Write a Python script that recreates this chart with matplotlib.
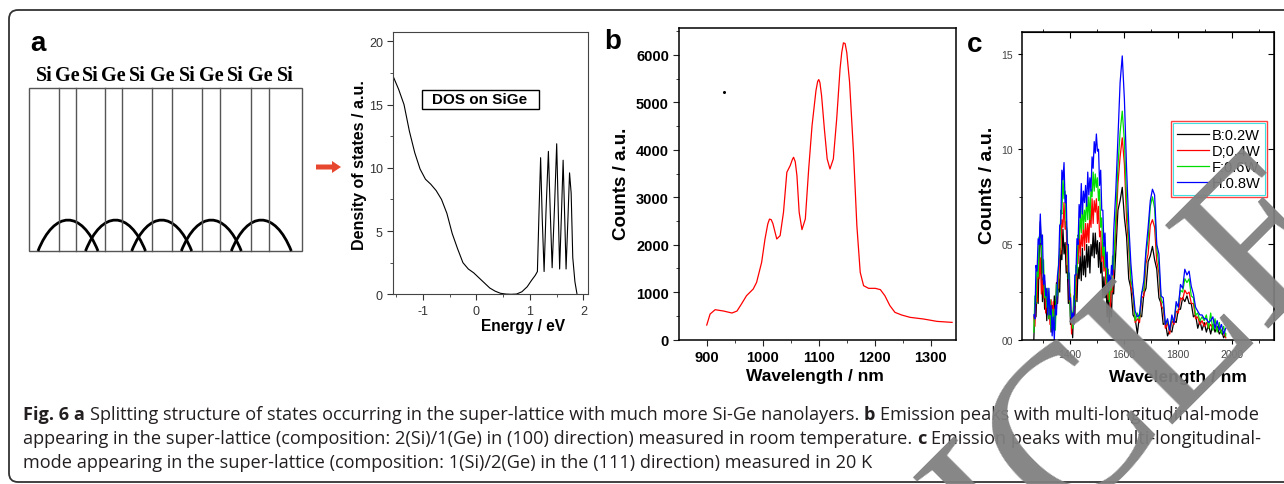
import matplotlib
matplotlib.use("Agg")
import matplotlib.pyplot as plt
from matplotlib.patches import FancyBboxPatch, Rectangle, FancyArrow, PathPatch
from matplotlib.path import Path
from matplotlib.ticker import MultipleLocator, FixedLocator, NullFormatter

plt.rcParams["axes.unicode_minus"] = False
plt.rcParams["font.family"] = ["Liberation Sans", "DejaVu Sans"]

W, H = 1284, 485

# ---------------- data ----------------
# panel a: layer sequence of the super-lattice
layer_names = ["Si", "Ge", "Si", "Ge", "Si", "Ge", "Si", "Ge", "Si", "Ge", "Si"]

# panel a: density of states
energy_ev = [-1.55, -1.45, -1.35, -1.25, -1.15, -1.05, -0.95, -0.85, -0.75, -0.65,
             -0.55, -0.45, -0.35, -0.25, -0.15, -0.05, 0.05, 0.15, 0.25, 0.35,
             0.45, 0.55, 0.65, 0.75, 0.85, 0.95, 1.03, 1.10, 1.14, 1.17,
             1.20, 1.23, 1.265, 1.30, 1.345, 1.38, 1.415, 1.46, 1.50, 1.53,
             1.555, 1.59, 1.62, 1.65, 1.675, 1.71, 1.74, 1.77, 1.80, 1.84, 1.88]
dos_au = [17.2, 16.2, 15.0, 12.9, 11.2, 9.9, 9.1, 8.7, 8.2, 7.5,
          6.4, 4.8, 3.6, 2.5, 2.0, 1.7, 1.3, 0.9, 0.5, 0.25,
          0.08, 0.02, 0.0, 0.02, 0.2, 0.6, 1.1, 1.5, 1.8, 6.5,
          10.8, 6.0, 1.8, 6.5, 11.3, 6.5, 2.1, 7.0, 11.9, 6.5,
          2.0, 6.5, 10.6, 6.0, 2.0, 6.0, 9.6, 8.0, 2.9, 1.0, 0.0]

# panel b: room temperature emission
wl_b = [900, 906, 915, 930, 945, 954, 962, 971, 983, 989, 998, 1004, 1009, 1012, 1015, 1018,
        1025, 1031, 1037, 1043, 1049, 1053, 1055, 1058, 1061, 1065, 1070, 1076, 1082, 1088,
        1095, 1098, 1100, 1102, 1105, 1110, 1115, 1120, 1126, 1132, 1138, 1141, 1144, 1147,
        1150, 1155, 1162, 1168, 1174, 1180, 1189, 1201, 1210, 1218, 1227, 1236, 1248, 1263,
        1287, 1311, 1338]
counts_b = [309, 541, 632, 604, 562, 604, 752, 927, 1068, 1208, 1630, 2122, 2440, 2540, 2530, 2450,
            2122, 2192, 2684, 3527, 3668, 3800, 3843, 3750, 3457, 2684, 2319, 2543, 3597, 4511,
            5248, 5440, 5480, 5420, 5143, 4440, 3808, 3597, 3808, 4651, 5705, 6050, 6253, 6240,
            6050, 5424, 3949, 2403, 1419, 1138, 1082, 1082, 1054, 927, 717, 576, 520, 471,
            436, 386, 365]
stray_wl, stray_counts = [930], [5227]

# panel c: 20 K emission at four pump powers
wl_c = [1266, 1270, 1274, 1278, 1282, 1286, 1290, 1294, 1298, 1302, 1306, 1310, 1314, 1318,
        1322, 1326, 1330, 1334, 1338, 1342, 1346, 1350, 1354, 1358, 1362, 1366, 1370, 1374,
        1378, 1382, 1386, 1390, 1394, 1398, 1402, 1406, 1410, 1414, 1418, 1422, 1426, 1430,
        1434, 1438, 1442, 1446, 1450, 1454, 1458, 1462, 1466, 1470, 1474, 1478, 1482, 1486,
        1490, 1494, 1498, 1502, 1506, 1510, 1514, 1518, 1522, 1526, 1530, 1534, 1538, 1542,
        1546, 1550, 1554, 1558, 1562,
        1570, 1578, 1586, 1594, 1602, 1610, 1618, 1626, 1634, 1642,
        1650, 1658, 1666, 1674, 1682, 1690, 1698, 1706, 1714, 1722,
        1730, 1738, 1746, 1754, 1762, 1770, 1778, 1786, 1794, 1802,
        1810, 1818, 1826, 1834, 1842, 1850, 1858, 1866, 1874, 1882,
        1890, 1898, 1906, 1914, 1922, 1930, 1938, 1946, 1954, 1962,
        1970, 1978]
c_b02 = [0.0, 1.9, 1.2, 2.8, 1.9, 4.5, 6.2, 4.3, 2.0, 3.3, 1.6, 2.3, 1.0, 2.5,
         1.1, 2.0, 0.4, 1.8, 1.1, 2.3, 1.1, 3.0, 1.9, 3.2, 2.5, 4.7, 4.2, 5.8,
         4.5, 5.1, 3.5, 3.9, 1.9, 2.9, 0.8, 1.2, 0.1, 1.9, 1.2, 2.9, 2.0, 3.8,
         3.2, 4.4, 3.1, 4.8, 3.4, 4.4, 3.3, 5.0, 3.8, 4.9, 3.5, 5.0, 4.4, 5.6,
         4.3, 5.6, 4.5, 5.2, 3.8, 5.1, 3.5, 4.1, 2.2, 3.3, 2.2, 2.9, 1.2, 2.5,
         0.9, 2.0, 1.2, 3.2, 2.4,
         4.6, 6.8, 7.3, 8.0, 6.4, 5.4, 3.2, 2.7, 1.3, 1.1,
         0.3, 1.3, 1.2, 2.4, 2.7, 4.1, 4.4, 4.9, 4.2, 3.7,
         2.2, 1.9, 0.8, 0.9, 0.2, 0.5, 0.4, 1.0, 0.9, 1.6,
         1.6, 2.2, 2.0, 2.3, 1.9, 1.9, 1.2, 1.3, 0.6, 1.0,
         0.5, 0.9, 0.4, 0.8, 0.3, 0.8, 0.4, 0.7, 0.3, 0.5,
         0.1, 0.3]
c_d04 = [1.2, 0.7, 2.3, 2.0, 4.1, 3.2, 4.3, 2.4, 3.1, 2.2, 3.1, 1.4, 2.5, 1.3,
         2.0, 0.8, 2.1, 0.8, 2.0, 0.5, 1.7, 1.6, 3.4, 2.7, 4.8, 4.5, 6.3, 5.9,
         7.2, 5.8, 6.2, 3.6, 3.6, 2.0, 2.4, 0.3, 1.4, 0.8, 2.3, 2.1, 4.5, 4.0,
         5.7, 4.4, 5.5, 4.9, 6.1, 4.7, 6.1, 5.1, 6.1, 5.1, 6.8, 5.9, 7.4, 6.1,
         7.3, 6.7, 7.4, 6.1, 7.0, 5.4, 5.7, 4.1, 5.1, 3.6, 4.5, 2.6, 3.2, 2.1,
         3.0, 1.6, 3.2, 2.5, 3.9,
         5.6, 8.2, 9.6, 10.6, 9.2, 6.3, 4.9, 2.8, 2.3, 0.9,
         1.1, 0.9, 2.2, 2.3, 4.0, 4.5, 6.0, 6.3, 5.9, 4.1,
         3.5, 1.8, 1.6, 0.6, 0.9, 0.3, 1.0, 0.8, 1.5, 1.4,
         2.2, 2.1, 2.6, 2.4, 2.5, 1.9, 1.9, 1.1, 1.2, 0.8,
         1.0, 0.7, 0.9, 0.6, 0.8, 0.6, 0.8, 0.5, 0.7, 0.4,
         0.4, 0.1]
c_f06 = [0.4, 2.3, 1.9, 3.9, 3.3, 5.4, 5.1, 5.5, 3.5, 4.2, 2.2, 2.7, 1.7, 2.7,
         1.1, 2.1, 0.6, 1.6, 0.7, 1.6, 0.5, 2.9, 2.3, 4.2, 4.5, 6.8, 6.6, 8.5,
         7.4, 7.8, 6.0, 5.7, 3.2, 3.5, 1.2, 1.5, 0.6, 2.3, 1.8, 3.9, 3.5, 5.5,
         5.3, 6.6, 5.6, 7.2, 5.8, 6.8, 6.2, 7.5, 6.3, 7.5, 6.3, 7.9, 7.5, 8.8,
         7.8, 8.7, 8.0, 8.5, 7.3, 7.9, 5.9, 6.4, 4.4, 5.1, 3.8, 4.3, 2.6, 3.7,
         2.0, 3.0, 2.6, 4.4, 3.7,
         6.4, 9.1, 10.9, 12.0, 10.4, 7.3, 5.3, 3.1, 2.6, 1.0,
         1.4, 1.1, 2.5, 2.6, 4.5, 5.3, 7.0, 7.5, 6.9, 4.8,
         3.9, 2.1, 1.9, 0.8, 1.0, 0.5, 1.1, 1.0, 1.8, 1.8,
         2.6, 2.5, 3.2, 3.0, 3.2, 2.3, 2.2, 1.3, 1.4, 1.0,
         1.2, 1.0, 1.3, 0.6, 1.4, 0.5, 1.1, 0.4, 0.9, 0.3,
         0.7, 0.2]
c_h08 = [1.3, 1.1, 3.9, 3.6, 5.3, 5.0, 6.6, 5.0, 5.5, 2.9, 3.4, 2.3, 2.7, 1.3,
         2.7, 1.3, 1.8, 0.2, 1.2, 0.0, 1.8, 1.3, 3.4, 3.9, 6.0, 6.1, 8.9, 8.4,
         9.3, 7.2, 7.6, 5.0, 5.0, 2.1, 2.2, 0.9, 1.4, 0.8, 3.4, 3.4, 5.3, 5.0,
         7.1, 6.4, 8.2, 6.6, 7.8, 7.2, 8.1, 7.0, 8.8, 7.6, 8.5, 7.8, 9.6, 9.0,
         10.4, 9.8, 10.8, 9.9, 10.0, 8.1, 8.9, 6.8, 6.8, 4.9, 5.6, 3.8, 4.6, 2.5,
         3.4, 2.8, 3.9, 3.4, 5.6,
         7.8, 10.6, 13.5, 14.9, 12.6, 9.0, 6.1, 4.0, 2.6, 1.5,
         1.2, 1.3, 2.4, 3.1, 4.7, 5.9, 7.3, 7.9, 7.6, 5.0,
         4.5, 2.3, 2.2, 0.8, 1.1, 0.5, 1.3, 0.9, 2.0, 1.7,
         2.9, 2.7, 3.7, 3.4, 3.6, 2.8, 2.4, 1.7, 1.5, 1.3,
         1.3, 1.1, 1.1, 0.9, 1.0, 1.2, 0.6, 1.0, 0.5, 0.8,
         0.3, 0.6]
series_c = [(c_b02, "B:0.2W", "black"), (c_d04, "D;0.4W", "#ff0000"),
            (c_f06, "F:0.6W", "#00dd00"), (c_h08, "H:0.8W", "#0000ff")]

caption = [
    [("Fig. 6 a", True), ("Splitting structure of states occurring in the super-lattice with much more Si-Ge nanolayers.", False),
     ("b", True), ("Emission peaks with multi-longitudinal-mode", False)],
    [("appearing in the super-lattice (composition: 2(Si)/1(Ge) in (100) direction) measured in room temperature.", False),
     ("c", True), ("Emission peaks with multi-longitudinal-", False)],
    [("mode appearing in the super-lattice (composition: 1(Si)/2(Ge) in the (111) direction) measured in 20 K", False)],
]


def box(l, t, r, b):
    return [l / W, 1 - b / H, (r - l) / W, (b - t) / H]


def ftext(x, y, s, **kw):
    return fig.text(x / W, 1 - y / H, s, **kw)


fig = plt.figure(figsize=(W / 100, H / 100), dpi=100)
renderer = fig.canvas.get_renderer()

# overlay in pixel units (schematic, frame, arrow, watermark)
ov = fig.add_axes([0, 0, 1, 1], zorder=10)
ov.set_xlim(0, W)
ov.set_ylim(H, 0)
ov.axis("off")

ov.add_patch(FancyBboxPatch((9, 11), 1300, 472, boxstyle="round,pad=0,rounding_size=9",
                            fc="none", ec="#333333", lw=1.3, clip_on=False))

# ---- panel a schematic ----
edges = [29.3, 59, 76.3, 105.3, 122.3, 152.3, 171.7, 202.3, 219.7, 250.7, 269.3, 301.7]
top_y, bot_y = 89, 252
ov.add_patch(Rectangle((edges[0], top_y), edges[-1] - edges[0], bot_y - top_y,
                       fc="none", ec="#555555", lw=1.0))
for xe in edges[1:-1]:
    ov.plot([xe, xe], [top_y, bot_y], color="#555555", lw=1.0)
for i, name in enumerate(layer_names):
    ov.text((edges[i] + edges[i + 1]) / 2, 76, name, ha="center", va="center",
            fontsize=14.5, fontweight="bold", family="Liberation Serif")
for c in [68, 115.5, 161.7, 211.3, 261.3]:
    hw, hgt = 30, 31
    verts = [(c - hw, bot_y), (c - hw * 0.45, bot_y - hgt * 1.33),
             (c + hw * 0.45, bot_y - hgt * 1.33), (c + hw, bot_y)]
    ov.add_patch(PathPatch(Path(verts, [Path.MOVETO, Path.CURVE4, Path.CURVE4, Path.CURVE4]),
                           fc="none", ec="black", lw=2.0))
ov.add_patch(FancyArrow(316, 168, 25, 0, width=5, head_width=12, head_length=9,
                        length_includes_head=True, color="#e8472f", lw=0))

# ---- panel a DOS ----
ax1 = fig.add_axes(box(393.3, 32.7, 588.3, 295.3))
ax1.plot(energy_ev, dos_au, color="black", lw=0.8)
ax1.set_xlim(-1.55, 2.09)
ax1.set_ylim(0, 20.76)
ax1.xaxis.set_major_locator(MultipleLocator(1))
ax1.xaxis.set_minor_locator(MultipleLocator(0.5))
ax1.yaxis.set_major_locator(MultipleLocator(5))
ax1.yaxis.set_minor_locator(MultipleLocator(2.5))
ax1.tick_params(which="both", direction="out", labelsize=9, labelcolor="#333333", color="#333333")
ax1.tick_params(which="major", length=4)
ax1.tick_params(which="minor", length=2.5)
for sp in ax1.spines.values():
    sp.set_color("#444444")
ov.add_patch(Rectangle((421.7, 90.7), 117.3, 19.3, fc="white", ec="black", lw=1.0))
ov.text(480, 100.5, "DOS on SiGe", ha="center", va="center", fontsize=11, fontweight="bold")
ftext(360, 165, "Density of states / a.u.", rotation=90, ha="center", va="center",
      fontsize=11.5, fontweight="bold")
ftext(523, 326, "Energy / eV", ha="center", va="center", fontsize=11.2, fontweight="bold")

# ---- panel b ----
ax2 = fig.add_axes(box(679.3, 29.3, 956, 340.7))
ax2.plot(wl_b, counts_b, color="#ff0000", lw=0.9)
ax2.plot(stray_wl, stray_counts, "o", color="black", ms=1.2)
ax2.set_xlim(851, 1345)
ax2.set_ylim(0, 6560)
ax2.xaxis.set_major_locator(MultipleLocator(100))
ax2.xaxis.set_minor_locator(MultipleLocator(50))
ax2.yaxis.set_major_locator(MultipleLocator(1000))
ax2.yaxis.set_minor_locator(MultipleLocator(500))
ax2.tick_params(which="both", direction="out", labelsize=10.5, color="#222222")
ax2.tick_params(which="major", length=4)
ax2.tick_params(which="minor", length=2.5)
for lab in ax2.get_xticklabels() + ax2.get_yticklabels():
    lab.set_fontweight("bold")
for sp in ax2.spines.values():
    sp.set_linewidth(1.1)
ftext(622, 184, "Counts / a.u.", rotation=90, ha="center", va="center", fontsize=13.5, fontweight="bold")
ftext(815, 377, "Wavelength / nm", ha="center", va="center", fontsize=12.5, fontweight="bold")

# ---- panel c ----
ax3 = fig.add_axes(box(1021.7, 33.3, 1274.3, 340.7))
for vals, lab, col in series_c:
    ax3.plot(wl_c, vals, color=col, lw=0.9, label=lab)
ax3.set_xlim(1221, 2158)
ax3.set_ylim(0, 16.14)
ax3.xaxis.set_major_locator(FixedLocator([1400, 1600, 1800, 2000]))
ax3.xaxis.set_minor_locator(FixedLocator([1300, 1500, 1700, 1900, 2100]))
ax3.yaxis.set_major_locator(FixedLocator([0, 5, 10, 15]))
ax3.yaxis.set_minor_locator(FixedLocator([2.5, 7.5, 12.5]))
ax3.set_yticklabels(["00", "05", "10", "15"])
ax3.tick_params(which="both", direction="out", labelsize=7.5, labelcolor="#444444")
ax3.tick_params(which="major", length=3)
ax3.tick_params(which="minor", length=2)
top = ax3.secondary_xaxis("top")
top.xaxis.set_major_locator(FixedLocator([1400, 1600, 1800, 2000]))
top.xaxis.set_minor_locator(FixedLocator([1300, 1500, 1700, 1900, 2100]))
top.tick_params(which="major", direction="in", length=4, labeltop=False)
top.tick_params(which="minor", direction="out", length=2)
top.xaxis.set_major_formatter(NullFormatter())
right = ax3.secondary_yaxis("right")
right.yaxis.set_major_locator(FixedLocator([5, 10, 15]))
right.tick_params(which="major", direction="in", length=4, labelright=False)
right.yaxis.set_major_formatter(NullFormatter())
for sp in ax3.spines.values():
    sp.set_linewidth(1.1)
leg = ax3.legend(loc="upper left", bbox_to_anchor=(0.59, 0.7105), fontsize=10.5,
                 handlelength=2.2, handletextpad=0.15, labelspacing=0.15,
                 borderpad=0.45, borderaxespad=0, fancybox=False, framealpha=1)
leg.get_frame().set_edgecolor("#ff4040")
leg.get_frame().set_linewidth(1.0)
ftext(988, 185, "Counts / a.u.", rotation=90, ha="center", va="center", fontsize=14, fontweight="bold")
ftext(1178, 378, "Wavelength / nm", ha="center", va="center", fontsize=12.5, fontweight="bold")

# panel letters
ftext(38, 44, "a", ha="center", va="center", fontsize=20, fontweight="bold")
ftext(613, 42, "b", ha="center", va="center", fontsize=20, fontweight="bold")
ftext(975, 45, "c", ha="center", va="center", fontsize=20, fontweight="bold")

# inner cyan edge of the legend frame
fig.canvas.draw()
lb = leg.get_frame().get_window_extent(renderer)
ov.add_patch(Rectangle((lb.x0 + 2, H - lb.y1 + 2), lb.width - 4, lb.height - 4,
                       fc="none", ec="#40e0e0", lw=0.8))

# ---- caption ----
cap_kw = dict(family=["Open Sans", "DejaVu Sans"], color="#231f20", va="baseline", ha="left")


def line_width(segs, size):
    total = 0
    made = []
    for s, bold in segs:
        t = fig.text(0, 0, s, fontsize=size, fontweight="bold" if bold else "normal", **cap_kw)
        made.append(t)
        total += t.get_window_extent(renderer).width
    sp = fig.text(0, 0, "a a", fontsize=size, **cap_kw)
    sp2 = fig.text(0, 0, "aa", fontsize=size, **cap_kw)
    space = sp.get_window_extent(renderer).width - sp2.get_window_extent(renderer).width
    for t in made + [sp, sp2]:
        t.remove()
    return total + space * (len(segs) - 1), space


w10, _ = line_width(caption[0], 10)
cap_size = 10 * (1258 - 23) / w10
_, space_w = line_width(caption[0], cap_size)
for k, line in enumerate(caption):
    x = 23
    y = 420 + 24 * k
    for s, bold in line:
        t = ftext(x, y, s, fontsize=cap_size, fontweight="bold" if bold else "normal", **cap_kw)
        x += t.get_window_extent(renderer).width + space_w

# watermark
ov.text(1360, 237, "RETRACTED ARTICLE", rotation=45, rotation_mode="anchor", ha="right",
        va="baseline", fontsize=160, family="Liberation Serif", color="#808080", alpha=0.95)

fig.savefig("out.png", dpi=100)
